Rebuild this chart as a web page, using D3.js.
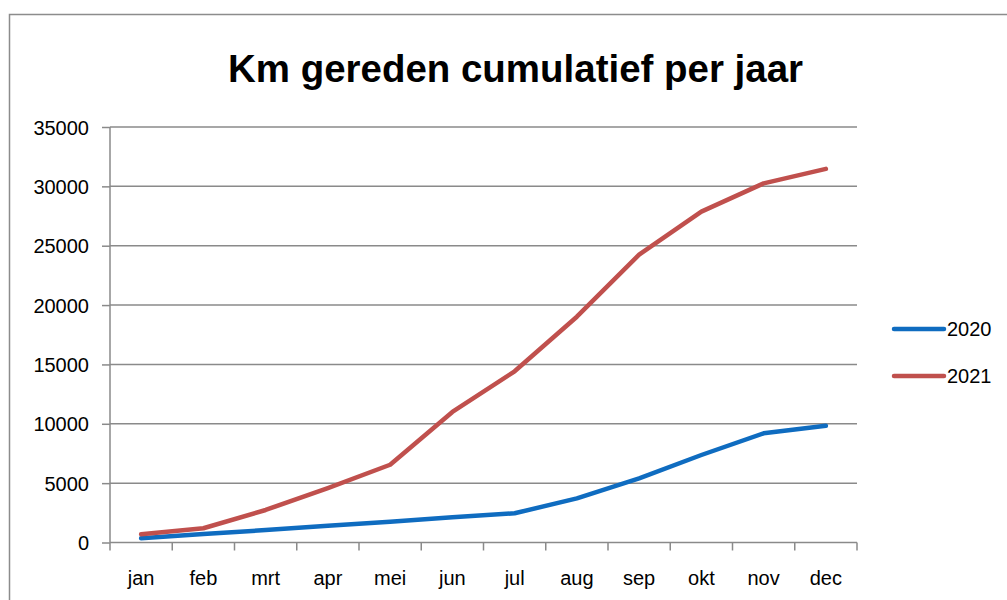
<!DOCTYPE html>
<html><head><meta charset="utf-8">
<script src="https://cdn.jsdelivr.net/npm/d3@7"></script>
<style>body{margin:0;background:#fff}svg{display:block}</style>
</head><body>
<svg id="c" width="1007" height="600"></svg>
<script>
const months = ["jan","feb","mrt","apr","mei","jun","jul","aug","sep","okt","nov","dec"];
const series2020 = [350, 720, 1050, 1420, 1750, 2120, 2460, 3720, 5410, 7370, 9200, 9840];
const series2021 = [690, 1200, 2740, 4590, 6550, 11000, 14420, 19020, 24250, 27870, 30250, 31470];
const yTicks = [0, 5000, 10000, 15000, 20000, 25000, 30000, 35000];
const seriesNames = ["2020", "2021"];
const seriesColors = ["#0F6CC0", "#C0504D"];

const svg = d3.select("#c");
const font = "'Liberation Sans', Arial, sans-serif";

// frame
svg.append("rect").attr("x", 9.5).attr("y", 14.5).attr("width", 1010).attr("height", 600)
  .attr("fill", "#fff").attr("stroke", "#8c8c8c").attr("stroke-width", 1.5);

const x = d3.scaleBand().domain(months).range([110, 857]);
const y = d3.scaleLinear().domain([0, 35000]).range([542.5, 127]);

// gridlines
svg.append("g").selectAll("line").data(yTicks.filter(d => d > 0)).join("line")
  .attr("x1", 110).attr("x2", 857).attr("y1", d => y(d)).attr("y2", d => y(d))
  .attr("stroke", "#8a8a8a").attr("stroke-width", 1.5);

// y axis
const yAxis = d3.axisLeft(y).tickValues(yTicks).tickSize(8).tickPadding(12).tickFormat(d3.format("d"));
const gy = svg.append("g").attr("transform", "translate(110,0)").call(yAxis);
gy.select(".domain").attr("stroke", "#8a8a8a").attr("stroke-width", 1.5).attr("d", `M0,${y(35000)}V${y(0)}`);
gy.selectAll(".tick line").attr("stroke", "#8a8a8a").attr("stroke-width", 1.5);
gy.selectAll(".tick text").attr("font-family", font).attr("font-size", 20).attr("fill", "#000")
  .attr("x", -21).attr("dy", "0.35em");

// x axis
const xAxis = d3.axisBottom(x).tickSize(0).tickPadding(0);
const gx = svg.append("g").attr("transform", `translate(0,${y(0)})`).call(xAxis);
gx.select(".domain").attr("stroke", "#8a8a8a").attr("stroke-width", 1.5).attr("d", `M110,0H857`);
gx.selectAll(".tick text").attr("font-family", font).attr("font-size", 20).attr("fill", "#000")
  .attr("y", 42).attr("dy", 0);
// x tick marks at band boundaries
const bounds = months.map(m => x(m)).concat([x.range()[1]]);
gx.append("g").selectAll("line").data(bounds).join("line")
  .attr("x1", d => d).attr("x2", d => d).attr("y1", 0).attr("y2", 8)
  .attr("stroke", "#8a8a8a").attr("stroke-width", 1.5);

// lines
const cx = m => x(m) + x.bandwidth() / 2;
const line = d3.line().x((d, i) => cx(months[i])).y(d => y(d));
[series2020, series2021].forEach((s, k) => {
  svg.append("path").datum(s).attr("d", line).attr("fill", "none")
    .attr("stroke", seriesColors[k]).attr("stroke-width", 4.5)
    .attr("stroke-linejoin", "round").attr("stroke-linecap", "round");
});

// legend
const legY = [329, 376];
seriesNames.forEach((n, k) => {
  svg.append("line").attr("x1", 894).attr("x2", 944).attr("y1", legY[k]).attr("y2", legY[k])
    .attr("stroke", seriesColors[k]).attr("stroke-width", 4.5).attr("stroke-linecap", "round");
  svg.append("text").attr("x", 947).attr("y", legY[k]).attr("dy", "0.35em")
    .attr("font-family", font).attr("font-size", 20).attr("fill", "#000").text(n);
});

// title
svg.append("text").attr("x", 515.5).attr("y", 82).attr("text-anchor", "middle")
  .attr("font-family", font).attr("font-weight", "bold").attr("font-size", 38)
  .attr("textLength", 575).attr("lengthAdjust", "spacingAndGlyphs")
  .attr("fill", "#000").text("Km gereden cumulatief per jaar");
</script>
</body></html>
